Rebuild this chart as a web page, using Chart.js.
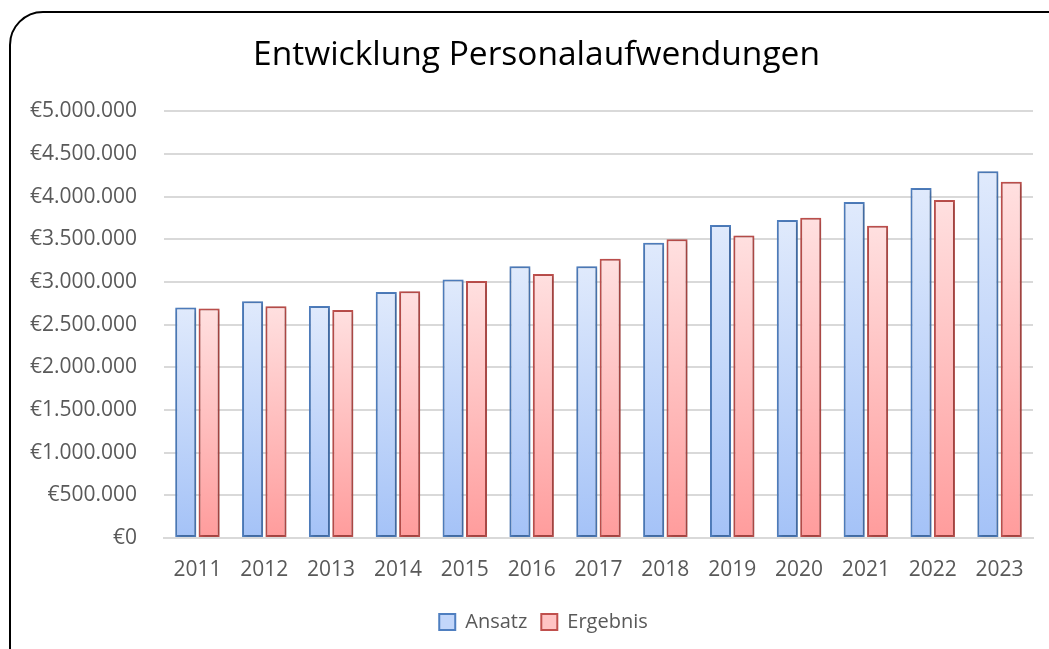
<!DOCTYPE html>
<html>
<head>
<meta charset="utf-8">
<script src="https://cdn.jsdelivr.net/npm/chart.js@4/dist/chart.umd.min.js"></script>
<style>
  html, body { margin: 0; padding: 0; background: #fff; overflow: hidden; }
  #wrap { position: relative; width: 1049px; height: 649px; }
  #frame { position: absolute; left: 9px; top: 11px; width: 1100px; height: 700px;
           border: 2px solid #000; border-radius: 34px; box-sizing: border-box; }
  canvas { position: absolute; left: 0; top: 0; }
</style>
</head>
<body>
<div id="wrap">
  <div id="frame"></div>
  <canvas id="c" width="1049" height="649"></canvas>
</div>
<script>
const categories = ['2011','2012','2013','2014','2015','2016','2017','2018','2019','2020','2021','2022','2023'];
const ansatz   = [2700000, 2773000, 2718000, 2883000, 3028000, 3184000, 3184000, 3458000, 3666000, 3724000, 3935000, 4100000, 4296000];
const ergebnis = [2688000, 2715000, 2671000, 2891000, 3012000, 3094000, 3270000, 3501000, 3545000, 3751000, 3657000, 3959000, 4174000];
const seriesNames = ['Ansatz', 'Ergebnis'];
const chartTitle = 'Entwicklung Personalaufwendungen';

const FONT = "'Open Sans', 'Liberation Sans', sans-serif";
const TEXT = '#595959';

function fmtEuro(v) {
  const s = Math.round(v).toString().replace(/\B(?=(\d{3})+(?!\d))/g, '.');
  return '€' + s;
}

function barGradient(top, bottom) {
  return function(ctx) {
    const chart = ctx.chart;
    const area = chart.chartArea;
    if (!area || ctx.type !== 'data') return bottom;
    const ys = chart.scales.y;
    const yTop = ys.getPixelForValue(ctx.raw);
    const yBase = ys.getPixelForValue(0);
    if (!isFinite(yTop) || yBase - yTop < 1) return bottom;
    const g = chart.ctx.createLinearGradient(0, yTop, 0, yBase);
    g.addColorStop(0, top);
    g.addColorStop(1, bottom);
    return g;
  };
}

const shadowPlugin = {
  id: 'barShadow',
  beforeDatasetsDraw(chart) {
    const c = chart.ctx;
    c.save();
    c.shadowColor = 'rgba(0,0,0,0.28)';
    c.shadowBlur = 4;
    c.shadowOffsetX = 1;
    c.shadowOffsetY = 1;
  },
  afterDatasetsDraw(chart) {
    chart.ctx.restore();
  }
};

// centre title and legend on the same horizontal span as the original chart
const centrePlugin = {
  id: 'centreBlocks',
  afterLayout(chart) {
    if (chart.titleBlock) { chart.titleBlock.left = 40; chart.titleBlock.right = 1033; }
    if (chart.legend) { chart.legend.left = 47; chart.legend.right = 1040; }
  }
};

new Chart(document.getElementById('c'), {
  type: 'bar',
  data: {
    labels: categories,
    datasets: [
      {
        label: seriesNames[0],
        data: ansatz,
        backgroundColor: barGradient('#e0eafc', '#a4c2f7'),
        borderColor: '#4f7fc0',
        borderWidth: 2,
        borderSkipped: false,
        categoryPercentage: 0.7,
        barPercentage: 0.9
      },
      {
        label: seriesNames[1],
        data: ergebnis,
        backgroundColor: barGradient('#ffe0e0', '#ff9c9c'),
        borderColor: '#c0504d',
        borderWidth: 2,
        borderSkipped: false,
        categoryPercentage: 0.7,
        barPercentage: 0.9
      }
    ]
  },
  options: {
    responsive: false,
    animation: false,
    devicePixelRatio: 1,
    layout: { padding: { left: 18, right: 16, top: 35, bottom: 7 } },
    plugins: {
      title: {
        display: true,
        text: chartTitle,
        color: '#000',
        font: { family: FONT, size: 33.5, weight: 'normal' },
        padding: { top: 0, bottom: 36 }
      },
      legend: {
        position: 'bottom',
        labels: {
          color: TEXT,
          font: { family: FONT, size: 20 },
          boxWidth: 16,
          boxHeight: 16,
          padding: 14,
          generateLabels(chart) {
            const fills = [['#c2d6fa', '#4f7fc0'], ['#ffc4c4', '#c0504d']];
            return chart.data.datasets.map((ds, i) => ({
              text: ds.label,
              fillStyle: fills[i][0],
              strokeStyle: fills[i][1],
              lineWidth: 2,
              fontColor: TEXT,
              datasetIndex: i,
              hidden: false
            }));
          }
        }
      },
      tooltip: { enabled: false }
    },
    scales: {
      x: {
        grid: { display: false, drawTicks: false },
        border: { display: true, color: '#d9d9d9', width: 2 },
        ticks: { color: TEXT, font: { family: FONT, size: 21 }, padding: 19 },
        afterFit(scale) { scale.height = 60; }
      },
      y: {
        min: 0,
        max: 5000000,
        ticks: {
          stepSize: 500000,
          color: TEXT,
          font: { family: FONT, size: 21 },
          padding: 27,
          callback: v => fmtEuro(v)
        },
        grid: { color: '#d9d9d9', lineWidth: 2, drawTicks: false },
        border: { display: false },
        afterFit(scale) { scale.width = 146; }
      }
    }
  },
  plugins: [shadowPlugin, centrePlugin]
});
</script>
</body>
</html>
